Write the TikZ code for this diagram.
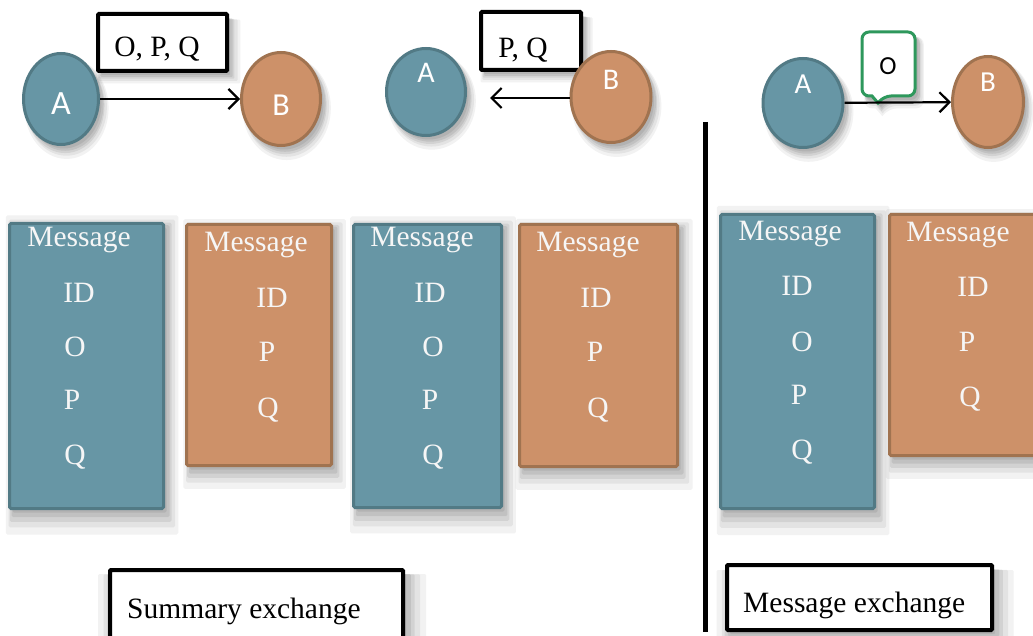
\documentclass[tikz,border=0pt]{standalone}
\usepackage{fontspec}
\setmainfont{Liberation Serif}
\newfontfamily\sansA{Carlito}
\usetikzlibrary{shapes.geometric,arrows.meta,shadows}
\definecolor{tealfill}{RGB}{103,150,165}
\definecolor{tealline}{RGB}{82,122,133}
\definecolor{orfill}{RGB}{205,145,105}
\definecolor{orline}{RGB}{160,115,80}
\definecolor{callgreen}{RGB}{46,152,92}
\definecolor{paletext}{RGB}{246,246,246}
\tikzset{
  fuzzy/.style={
    drop shadow={opacity=0.10, shadow xshift=5pt, shadow yshift=-8pt, shadow scale=1.12},
    drop shadow={opacity=0.13, shadow xshift=5pt, shadow yshift=-7pt, shadow scale=1.08},
    drop shadow={opacity=0.17, shadow xshift=4pt, shadow yshift=-6pt, shadow scale=1.05},
    drop shadow={opacity=0.20, shadow xshift=4pt, shadow yshift=-5pt, shadow scale=1.025},
    drop shadow={opacity=0.22, shadow xshift=3pt, shadow yshift=-4pt, shadow scale=1.0}},
  tnode/.style={ellipse, draw=tealline, fill=tealfill, line width=3pt, inner sep=0pt, fuzzy},
  onode/.style={ellipse, draw=orline, fill=orfill, line width=3pt, inner sep=0pt, fuzzy},
  tbox/.style={rectangle, draw=tealline, fill=tealfill, line width=3pt, rounded corners=1.5pt, inner sep=0pt, fuzzy},
  obox/.style={rectangle, draw=orline, fill=orfill, line width=3pt, rounded corners=1.5pt, inner sep=0pt, fuzzy},
  lblbox/.style={rectangle, draw=black, fill=white, line width=4pt, rounded corners=1pt, inner sep=0pt, fuzzy},
  msgtxt/.style={anchor=base, inner sep=0pt, text=paletext, font=\fontsize{29.5}{31}\selectfont},
  blacktxt/.style={anchor=base, inner sep=0pt, text=black, font=\fontsize{29.5}{31}\selectfont},
  letter/.style={inner sep=0pt, text=white},
  arr/.style={line width=2.2pt, -{Straight Barb[length=10pt,width=20pt,line width=2.2pt]}},
  callout/.style={draw=callgreen, fill=white, line width=3pt, fuzzy}
}
\begin{document}
\begin{tikzpicture}[x=1pt,y=-1pt]
\useasboundingbox (0,0) rectangle (1033,636);
\fill[white] (0,0) rectangle (1033,636);

% ---------- Panel 1 ----------
\node[lblbox, minimum width=129pt, minimum height=57pt] (L1) at (162.5,42.5) {};
\node[blacktxt] (L1t) at (157,57) {O, P, Q};
\node[tnode, minimum width=75pt, minimum height=91pt] (A1) at (61,99) {};
\node[onode, minimum width=79pt, minimum height=93pt] (B1) at (281,99) {};
\node[letter, font=\sansA\fontsize{34}{34}\selectfont] (A1t) at (61,104) {A};
\node[letter, font=\sansA\fontsize{32}{32}\selectfont] (B1t) at (281,105) {B};
\draw[arr] (A1) -- (B1);

% ---------- Panel 2 ----------
\node[lblbox, minimum width=100pt, minimum height=58pt] (L2) at (531,41) {};
\node[blacktxt] (L2t) at (523,58) {P, Q};
\node[tnode, minimum width=79pt, minimum height=87pt] (A2) at (426,92) {};
\node[onode, minimum width=80pt, minimum height=91pt] (B2) at (611,97) {};
\node[letter, font=\sansA\fontsize{30}{30}\selectfont] (A2t) at (426,73) {A};
\node[letter, font=\sansA\fontsize{30}{30}\selectfont] (B2t) at (611,80) {B};
\coordinate (E2) at (490,98);
\draw[arr] (B2.west |- E2) -- (E2);

% ---------- Panel 3 ----------
\draw[callout] (888,32) [rounded corners=7pt] -- (915,32) -- (915,96) -- (884,96) [sharp corners] -- (878,103) -- (872,96) [rounded corners=7pt] -- (862,96) -- (862,32) -- cycle;
\node[letter, text=black, font=\sansA\fontsize{26}{26}\selectfont] (C3t) at (888,66) {O};
\node[tnode, minimum width=80pt, minimum height=89pt] (A3) at (803,103) {};
\node[onode, minimum width=71pt, minimum height=91pt] (B3) at (988,102) {};
\node[letter, font=\sansA\fontsize{29}{29}\selectfont] (A3t) at (803,84) {A};
\node[letter, font=\sansA\fontsize{29}{29}\selectfont] (B3t) at (988,82) {B};
\draw[arr] (A3) -- (B3);

% divider
\coordinate (V1) at (705,122);
\coordinate (V2) at (705,632);
\draw[line width=5pt] (V1) -- (V2);

% ---------- Message boxes ----------
\node[tbox, minimum width=154pt, minimum height=285pt] (M1) at (86.5,366) {};
\node[msgtxt] (M1a) at (79,247) {Message};
\node[msgtxt] (M1b) at (79,302) {ID};
\node[msgtxt] (M1c) at (75,356) {O};
\node[msgtxt] (M1d) at (72,409) {P};
\node[msgtxt] (M1e) at (75,464) {Q};

\node[obox, minimum width=145pt, minimum height=241pt] (M2) at (259,345) {};
\node[msgtxt] (M2a) at (256,252) {Message};
\node[msgtxt] (M2b) at (272,307) {ID};
\node[msgtxt] (M2c) at (267,361) {P};
\node[msgtxt] (M2d) at (268,417) {Q};

\node[tbox, minimum width=148pt, minimum height=283pt] (M3) at (427.5,366) {};
\node[msgtxt] (M3a) at (422,247) {Message};
\node[msgtxt] (M3b) at (430,302) {ID};
\node[msgtxt] (M3c) at (433,356) {O};
\node[msgtxt] (M3d) at (430,409) {P};
\node[msgtxt] (M3e) at (433,464) {Q};

\node[obox, minimum width=158pt, minimum height=242pt] (M4) at (598.5,345.5) {};
\node[msgtxt] (M4a) at (588,252) {Message};
\node[msgtxt] (M4b) at (596,307) {ID};
\node[msgtxt] (M4c) at (595,361) {P};
\node[msgtxt] (M4d) at (598,417) {Q};

\node[tbox, minimum width=154pt, minimum height=294pt] (M5) at (797.5,361.5) {};
\node[msgtxt] (M5a) at (790,241) {Message};
\node[msgtxt] (M5b) at (797,295) {ID};
\node[msgtxt] (M5c) at (802,351) {O};
\node[msgtxt] (M5d) at (799,404) {P};
\node[msgtxt] (M5e) at (802,459) {Q};

\node[obox, minimum width=154pt, minimum height=241pt] (M6) at (966.5,335) {};
\node[msgtxt] (M6a) at (958,242) {Message};
\node[msgtxt] (M6b) at (973,296) {ID};
\node[msgtxt] (M6c) at (967,351) {P};
\node[msgtxt] (M6d) at (970,406) {Q};

% ---------- Captions ----------
\node[lblbox, minimum width=293pt, minimum height=80pt] (S1) at (256.5,610) {};
\node[blacktxt, anchor=base west] (S1t) at (127,618) {Summary exchange};
\node[lblbox, minimum width=265pt, minimum height=65pt] (S2) at (859.5,597.5) {};
\node[blacktxt, anchor=base west] (S2t) at (743,612) {Message exchange};
\end{tikzpicture}
\end{document}
